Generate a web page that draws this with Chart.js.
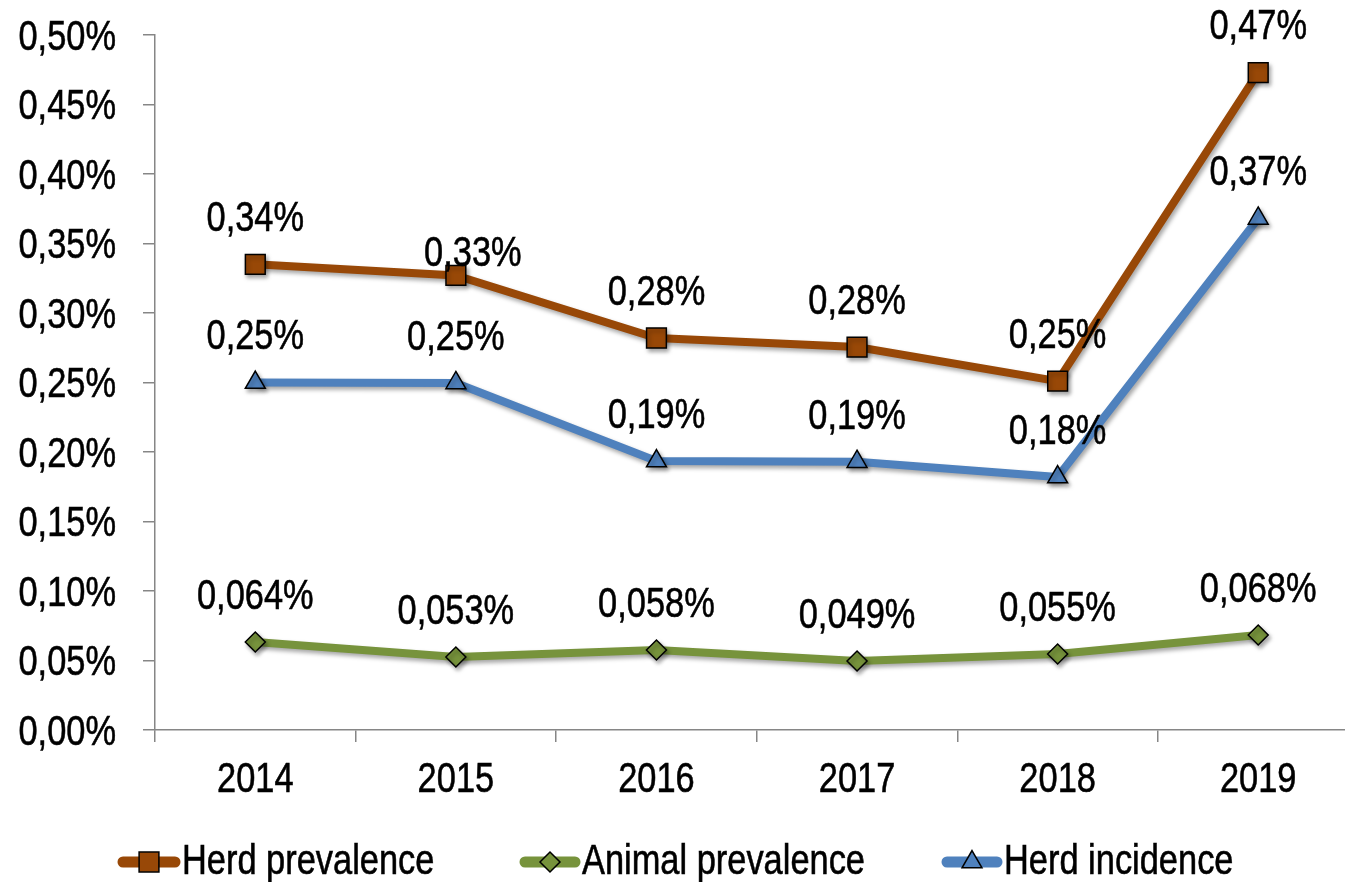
<!DOCTYPE html>
<html>
<head>
<meta charset="utf-8">
<script src="https://cdn.jsdelivr.net/npm/chart.js@4.4.1/dist/chart.umd.min.js"></script>
<style>
  html, body { margin: 0; padding: 0; background: #fff; overflow: hidden; }
  #wrap { position: relative; width: 1374px; height: 882px; }
</style>
</head>
<body>
<div id="wrap"><canvas id="chart"></canvas></div>
<script>
// ── data (values in percent) ──
const years = ['2014', '2015', '2016', '2017', '2018', '2019'];
const herdPrevalence = [0.335, 0.327, 0.282, 0.2755, 0.251, 0.473];
const animalPrevalence = [0.0633, 0.0525, 0.0576, 0.0496, 0.0547, 0.0683];
const herdIncidence = [0.250, 0.2497, 0.1935, 0.193, 0.182, 0.368];
const herdPrevalenceLabels = ['0,34%', '0,33%', '0,28%', '0,28%', '0,25%', '0,47%'];
const animalPrevalenceLabels = ['0,064%', '0,053%', '0,058%', '0,049%', '0,055%', '0,068%'];
const herdIncidenceLabels = ['0,25%', '0,25%', '0,19%', '0,19%', '0,18%', '0,37%'];
const yTicks = [0, 0.05, 0.10, 0.15, 0.20, 0.25, 0.30, 0.35, 0.40, 0.45, 0.50];

const FONT = "'Liberation Sans', Arial, sans-serif";
const FSIZE = 43;
const NARROW = 0.8;   // no narrow face installed -> squeeze the text horizontally
const BROWN = '#984807', GREEN = '#77933c', BLUE = '#4f81bd';

const seriesLabels = [herdPrevalenceLabels, animalPrevalenceLabels, herdIncidenceLabels];

function narrowText(c, text, x, y, align) {
  c.save();
  c.translate(x, y);
  c.scale(NARROW, 1);
  c.font = `${FSIZE}px ${FONT}`;
  c.fillStyle = '#000';
  c.strokeStyle = '#000';
  c.lineWidth = 0.6;
  c.textAlign = align;
  c.textBaseline = 'middle';
  c.fillText(text, 0, 0);
  c.strokeText(text, 0, 0);
  c.restore();
}

// soft shadow under lines, like the office chart
const shadowPlugin = {
  id: 'shadow',
  beforeDatasetDraw(chart) {
    const c = chart.ctx;
    c.save();
    c.shadowColor = 'rgba(0,0,0,0.35)';
    c.shadowBlur = 4;
    c.shadowOffsetX = 2;
    c.shadowOffsetY = 3;
  },
  afterDatasetDraw(chart) { chart.ctx.restore(); }
};

// axis tick labels (drawn here so they can be condensed)
const axisLabels = {
  id: 'axisLabels',
  afterDraw(chart) {
    const c = chart.ctx;
    const xs = chart.scales.x, ys = chart.scales.y;
    ys.ticks.forEach(t => {
      narrowText(c, t.value.toFixed(2).replace('.', ',') + '%', 116, ys.getPixelForValue(t.value) + 3, 'right');
    });
    years.forEach((yr, i) => {
      narrowText(c, yr, xs.getPixelForValue(i), 780, 'center');
    });
  }
};

// value labels above each point
const valueLabels = {
  id: 'valueLabels',
  afterDatasetsDraw(chart) {
    const c = chart.ctx;
    chart.data.datasets.forEach((ds, di) => {
      chart.getDatasetMeta(di).data.forEach((pt, i) => {
        let dx = 0, dy = -45;
        if (di === 0 && i === 1) { dx = 17; dy = -21; } // label nudged in original
        narrowText(c, seriesLabels[di][i], pt.x + dx, pt.y + dy, 'center');
      });
    });
  }
};

// bottom legend: line sample with marker + text
const lineLegend = {
  id: 'lineLegend',
  afterDraw(chart) {
    const c = chart.ctx;
    const y = 862;
    const items = [
      { x0: 118, x1: 180, ds: 0 },
      { x0: 520, x1: 580, ds: 1 },
      { x0: 942, x1: 1002, ds: 2 }
    ];
    items.forEach(it => {
      const ds = chart.data.datasets[it.ds];
      c.save();
      c.strokeStyle = ds.borderColor;
      c.lineWidth = 11;
      c.lineCap = 'round';
      c.beginPath();
      c.moveTo(it.x0 + 5, y);
      c.lineTo(it.x1 - 5, y);
      c.stroke();
      c.fillStyle = ds.pointBackgroundColor;
      c.strokeStyle = '#000';
      c.lineWidth = 1.5;
      Chart.helpers.drawPoint(c, {
        pointStyle: ds.pointStyle,
        radius: ds.pointRadius,
        borderWidth: 1.5
      }, (it.x0 + it.x1) / 2, y);
      c.restore();
      narrowText(c, ds.label, it.x1 + 2, y, 'left');
    });
  }
};

function mkSet(label, data, color, style, radius) {
  return {
    label, data,
    borderColor: color,
    backgroundColor: color,
    borderWidth: 8,
    pointStyle: style,
    pointRadius: radius,
    pointHoverRadius: radius,
    pointBackgroundColor: color,
    pointBorderColor: '#000',
    pointBorderWidth: 1.5,
    tension: 0,
    fill: false
  };
}

new Chart(document.getElementById('chart'), {
  type: 'line',
  data: {
    labels: years,
    datasets: [
      mkSet('Herd prevalence', herdPrevalence, BROWN, 'rect', 14),
      mkSet('Animal prevalence', animalPrevalence, GREEN, 'rectRot', 10),
      mkSet('Herd incidence', herdIncidence, BLUE, 'triangle', 11.5)
    ]
  },
  options: {
    responsive: true,
    maintainAspectRatio: false,
    animation: false,
    layout: { padding: { top: 35, right: 7, bottom: 0, left: 0 } },
    plugins: {
      legend: { display: false },
      tooltip: { enabled: false }
    },
    scales: {
      x: {
        offset: true,
        grid: { offset: true, drawOnChartArea: false, color: '#868686', tickLength: 12, lineWidth: 1.5 },
        border: { color: '#868686', width: 1.5 },
        ticks: { display: false },
        afterFit(scale) { scale.height = 152; }
      },
      y: {
        min: 0,
        max: 0.5,
        afterBuildTicks(scale) { scale.ticks = yTicks.map(v => ({ value: v })); },
        grid: { drawOnChartArea: false, color: '#868686', tickLength: 12, lineWidth: 1.5 },
        border: { color: '#868686', width: 1.5 },
        ticks: { display: false },
        afterFit(scale) { scale.width = 155; }
      }
    }
  },
  plugins: [shadowPlugin, valueLabels, axisLabels, lineLegend]
});
</script>
</body>
</html>
